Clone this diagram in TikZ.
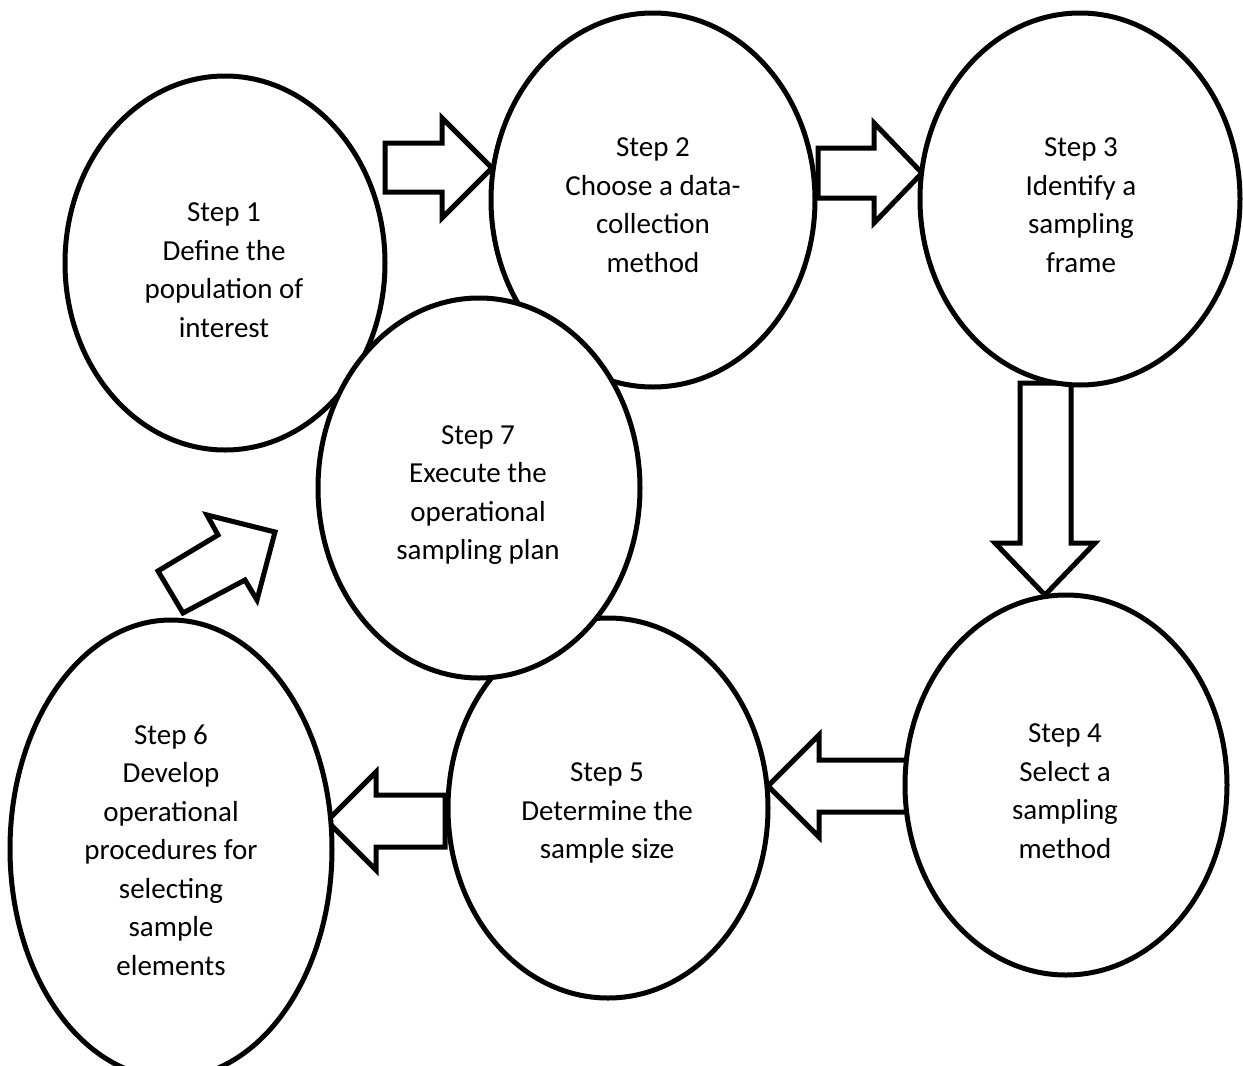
\documentclass[tikz,border=0pt]{standalone}
\usepackage{fontspec}
\setmainfont{Carlito}
\usetikzlibrary{shapes.geometric}
\tikzset{
  stepoval/.style={ellipse, draw, fill=white, line width=5pt, inner sep=0pt},
  steptext/.style={align=center, inner sep=0pt, font=\fontsize{29}{38.5}\selectfont},
  blockarrow/.style={draw, fill=white, line width=5pt},
}
\begin{document}
\begin{tikzpicture}[x=1pt,y=-1pt]
\useasboundingbox (0,0) rectangle (1243,1066);

% block arrows between the steps (drawn first, the ovals cover their ends)
\draw[blockarrow] (385,143) -- (442,143) -- (442,118) -- (492,168) -- (442,218) -- (442,192) -- (385,192) -- cycle;
\draw[blockarrow] (818,148) -- (874,148) -- (874,123) -- (922,173) -- (874,223) -- (874,198) -- (818,198) -- cycle;
\draw[blockarrow] (1020,383) -- (1020,543) -- (995,543) -- (1045,595) -- (1095,543) -- (1071,543) -- (1071,383) -- cycle;
\draw[blockarrow] (907,760) -- (819,760) -- (819,735) -- (768,786) -- (819,837) -- (819,812) -- (907,812) -- cycle;
\draw[blockarrow] (445,795) -- (376,795) -- (376,772) -- (327,821) -- (376,870) -- (376,847) -- (445,847) -- cycle;
\draw[blockarrow] (183,613) -- (158,571) -- (218,535) -- (207,515) -- (275,532) -- (257,600) -- (245,580) -- cycle;

% the seven steps
\node[stepoval, minimum width=320pt, minimum height=374pt] (s1) at (225,263) {};
\node[steptext] (t1) at (224,270) {Step 1\\Define the\\population of\\interest};

\node[stepoval, minimum width=324pt, minimum height=374pt] (s2) at (653,200) {};
\node[steptext] (t2) at (653,205) {Step 2\\Choose a data-\\collection\\method};

\node[stepoval, minimum width=320pt, minimum height=372pt] (s3) at (1080,199) {};
\node[steptext] (t3) at (1081,205) {Step 3\\Identify a\\sampling\\frame};

\node[stepoval, minimum width=322pt, minimum height=380pt] (s4) at (1066,785) {};
\node[steptext] (t4) at (1065,791) {Step 4\\Select a\\sampling\\method};

\node[stepoval, minimum width=320pt, minimum height=380pt] (s5) at (608,808) {};
\node[steptext] (t5) at (607,813) {Step 5\\Determine the\\sample size};

\node[stepoval, minimum width=322pt, minimum height=458pt] (s6) at (171,849) {};
\node[steptext] (t6) at (171,850) {Step 6\\Develop\\operational\\procedures for\\selecting\\sample\\elements};

\node[stepoval, minimum width=322pt, minimum height=380pt] (s7) at (479,488) {};
\node[steptext] (t7) at (478,495) {Step 7\\Execute the\\operational\\sampling plan};
\end{tikzpicture}
\end{document}
